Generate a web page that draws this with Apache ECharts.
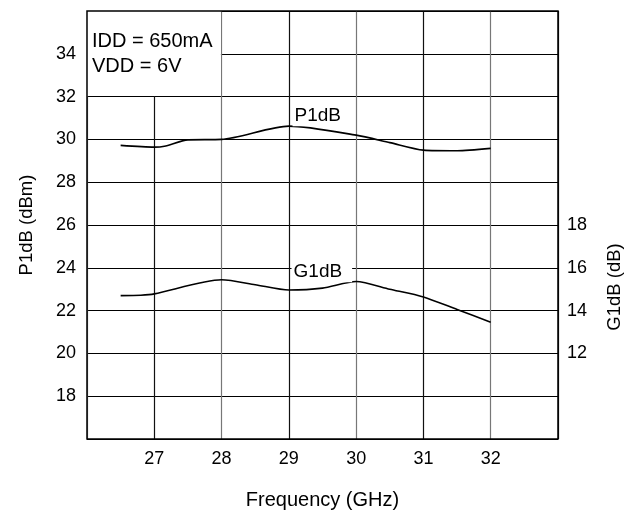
<!DOCTYPE html>
<html>
<head>
<meta charset="utf-8">
<script src="https://cdn.jsdelivr.net/npm/echarts@6/dist/echarts.min.js"></script>
<style>html,body{margin:0;padding:0;background:#fff;}#c{width:626px;height:515px;}</style>
</head>
<body>
<div id="c"></div>
<script>
// ---- data ----
const xTicks = [27, 28, 29, 30, 31, 32];
const leftTicks = [18, 20, 22, 24, 26, 28, 30, 32, 34];
const rightTicks = [12, 14, 16, 18];

const p1Freq = [26.5, 27, 27.15, 27.5, 28, 29, 30, 30.5, 31, 31.5, 32];
const p1dB   = [29.72, 29.64, 29.68, 29.98, 30.0, 30.62, 30.2, 29.85, 29.5, 29.47, 29.58];

const g1Freq = [26.5, 26.8, 27, 28, 28.5, 29, 29.5, 30, 30.5, 31, 31.5, 32];
const g1dB   = [14.70, 14.72, 14.78, 15.44, 15.21, 14.96, 15.05, 15.36, 15.0, 14.64, 14.05, 13.46];

const conditions = ['IDD = 650mA', 'VDD = 6V'];
const labelP1 = { name: 'P1dB', coord: [29.43, 31.1] };
const labelG1 = { name: 'G1dB', coord: [29.49, 15.81] };
const noteBox = { x: [26, 27.99], y: [32.03, 36] };

const font = 'Liberation Sans, Arial, Helvetica, sans-serif';
const chart = echarts.init(document.getElementById('c'), null, { renderer: 'canvas' });

const pair = (xs, ys) => xs.map((x, i) => [x, ys[i]]);

chart.setOption({
  animation: false,
  backgroundColor: '#fff',
  textStyle: { fontFamily: font, color: '#000' },
  grid: { left: 87, right: 68, top: 11, bottom: 74, show: true, borderColor: '#000', borderWidth: 1.5, z: 10, backgroundColor: 'transparent' },
  xAxis: {
    type: 'value', min: 26, max: 33, interval: 1,
    axisLine: { show: false }, axisTick: { show: false },
    axisLabel: { fontSize: 18, color: '#000', margin: 11, fontFamily: font,
      formatter: v => xTicks.includes(v) ? String(v) : '' },
    splitLine: { show: true, lineStyle: { color: ['#777', '#111'], width: 1.2 } },
    name: 'Frequency (GHz)', nameLocation: 'middle', nameGap: 51,
    nameTextStyle: { fontSize: 20, color: '#000', fontFamily: font }
  },
  yAxis: [
    {
      type: 'value', min: 16, max: 36, interval: 2,
      axisLine: { show: false }, axisTick: { show: false },
      axisLabel: { fontSize: 18, color: '#000', margin: 11, fontFamily: font,
        formatter: v => leftTicks.includes(v) ? String(v) : '' },
      splitLine: { show: true, lineStyle: { color: '#000', width: 1 } },
      name: 'P1dB (dBm)', nameLocation: 'middle', nameGap: 51,
      nameTextStyle: { fontSize: 18.5, color: '#000', fontFamily: font }
    },
    {
      type: 'value', min: 8, max: 28, interval: 2, position: 'right',
      axisLine: { show: false }, axisTick: { show: false },
      axisLabel: { fontSize: 18, color: '#000', margin: 9, fontFamily: font,
        formatter: v => rightTicks.includes(v) ? String(v) : '' },
      splitLine: { show: false }
    }
  ],
  graphic: [{
    type: 'text', x: 615, y: 287, rotation: Math.PI / 2,
    style: { text: 'G1dB (dB)', fontSize: 18.5, fontFamily: font, fill: '#000', align: 'center', verticalAlign: 'middle' }
  }],
  series: [
    {
      name: 'P1dB', type: 'line', yAxisIndex: 0, data: pair(p1Freq, p1dB),
      smooth: 0.25, symbol: 'none', lineStyle: { color: '#000', width: 1.6 },
      markArea: {
        silent: true,
        itemStyle: { color: '#fff' },
        label: { show: true, position: 'insideTopLeft', distance: 0, padding: [18, 0, 0, 5],
          formatter: conditions.join('\n'), fontSize: 20, lineHeight: 25, color: '#000', fontFamily: font },
        data: [[{ coord: [noteBox.x[0], noteBox.y[1]] }, { coord: [noteBox.x[1], noteBox.y[0]] }]]
      },
      markPoint: {
        silent: true, symbol: 'circle', symbolSize: 0,
        label: { show: true, position: 'inside', formatter: p => p.name, fontSize: 19, color: '#000',
          backgroundColor: '#fff', padding: [1, 2], fontFamily: font },
        data: [{ name: labelP1.name, coord: labelP1.coord }]
      }
    },
    {
      name: 'G1dB', type: 'line', yAxisIndex: 1, data: pair(g1Freq, g1dB),
      smooth: 0.25, symbol: 'none', lineStyle: { color: '#000', width: 1.6 },
      markPoint: {
        silent: true, symbol: 'circle', symbolSize: 0,
        label: { show: true, position: 'inside', formatter: p => p.name, fontSize: 19, color: '#000',
          backgroundColor: '#fff', padding: [1, 10, 1, 2], fontFamily: font },
        data: [{ name: labelG1.name, coord: labelG1.coord }]
      }
    }
  ]
});
</script>
</body>
</html>
